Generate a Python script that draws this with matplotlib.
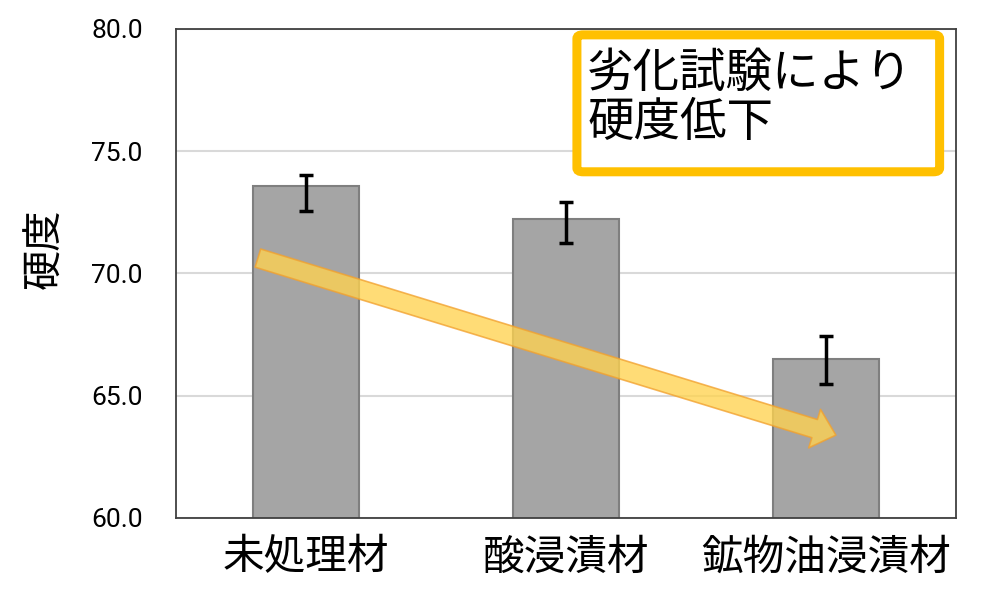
import numpy as np
import matplotlib
matplotlib.use("Agg")
import matplotlib.pyplot as plt
from matplotlib.patches import FancyArrowPatch, FancyBboxPatch

# values
categories = ["未処理材", "酸浸漬材", "鉱物油浸漬材"]
hardness = [73.57, 72.22, 66.49]
err_low = [1.01, 0.98, 1.01]
err_high = [0.47, 0.72, 0.95]
yticks = [60.0, 65.0, 70.0, 75.0, 80.0]
note = "劣化試験により\n硬度低下"

jp = ["Noto Sans CJK JP", "DejaVu Sans"]
plt.rcParams['font.family'] = jp

fig = plt.figure(figsize=(9.87, 6.03), dpi=100)
ax = fig.add_axes([176 / 987, 85 / 603, 780 / 987, 489 / 603])

x = np.arange(len(categories))
ax.bar(x, hardness, width=0.404, color="#A5A5A5", edgecolor="#7F7F7F",
       linewidth=1.5, zorder=2)
ax.errorbar(x, hardness, yerr=[err_low, err_high], fmt="none", ecolor="black",
            elinewidth=2.5, capsize=5, capthick=2.5, zorder=4)

ax.set_xlim(-0.5, len(categories) - 0.5)
ax.set_ylim(60, 80)
ax.set_yticks(yticks)
ax.set_yticklabels([f"{v:.1f}" for v in yticks], family=["Roboto", "DejaVu Sans"],
                   fontsize=19)
ax.set_xticks(x)
ax.set_xticklabels(categories, fontsize=30)
ax.tick_params(axis="y", length=0, pad=24)
ax.tick_params(axis="x", length=0, pad=14)
ax.yaxis.grid(True, color="#D9D9D9", linewidth=1.5, zorder=0)
ax.set_axisbelow(True)
for s in ax.spines.values():
    s.set_color("#404040")
    s.set_linewidth(1.3)

ax.set_ylabel("硬度", fontsize=29)
ax.yaxis.set_label_coords(-0.142, 0.55)

# trend arrow
arrow = FancyArrowPatch((-0.185, 70.63), (2.038, 63.39),
                        arrowstyle="simple,head_length=16,head_width=29,tail_width=13.7",
                        mutation_scale=1, shrinkA=0, shrinkB=0,
                        facecolor="#FFD34F", edgecolor="#F2A12E", alpha=0.78,
                        linewidth=1.2, zorder=3)
ax.add_patch(arrow)

# note box
box = FancyBboxPatch((0.514, 0.708), 0.465, 0.28, transform=ax.transAxes,
                     boxstyle="round,pad=0,rounding_size=0.008",
                     facecolor="white", edgecolor="#FFC000", linewidth=6.5,
                     zorder=5, clip_on=False)
ax.add_patch(box)
ax.text(0.527, 0.858, note, transform=ax.transAxes, fontsize=33.5,
        ha="left", va="center", linespacing=1.02, zorder=6)

fig.savefig("out.png", dpi=100)
